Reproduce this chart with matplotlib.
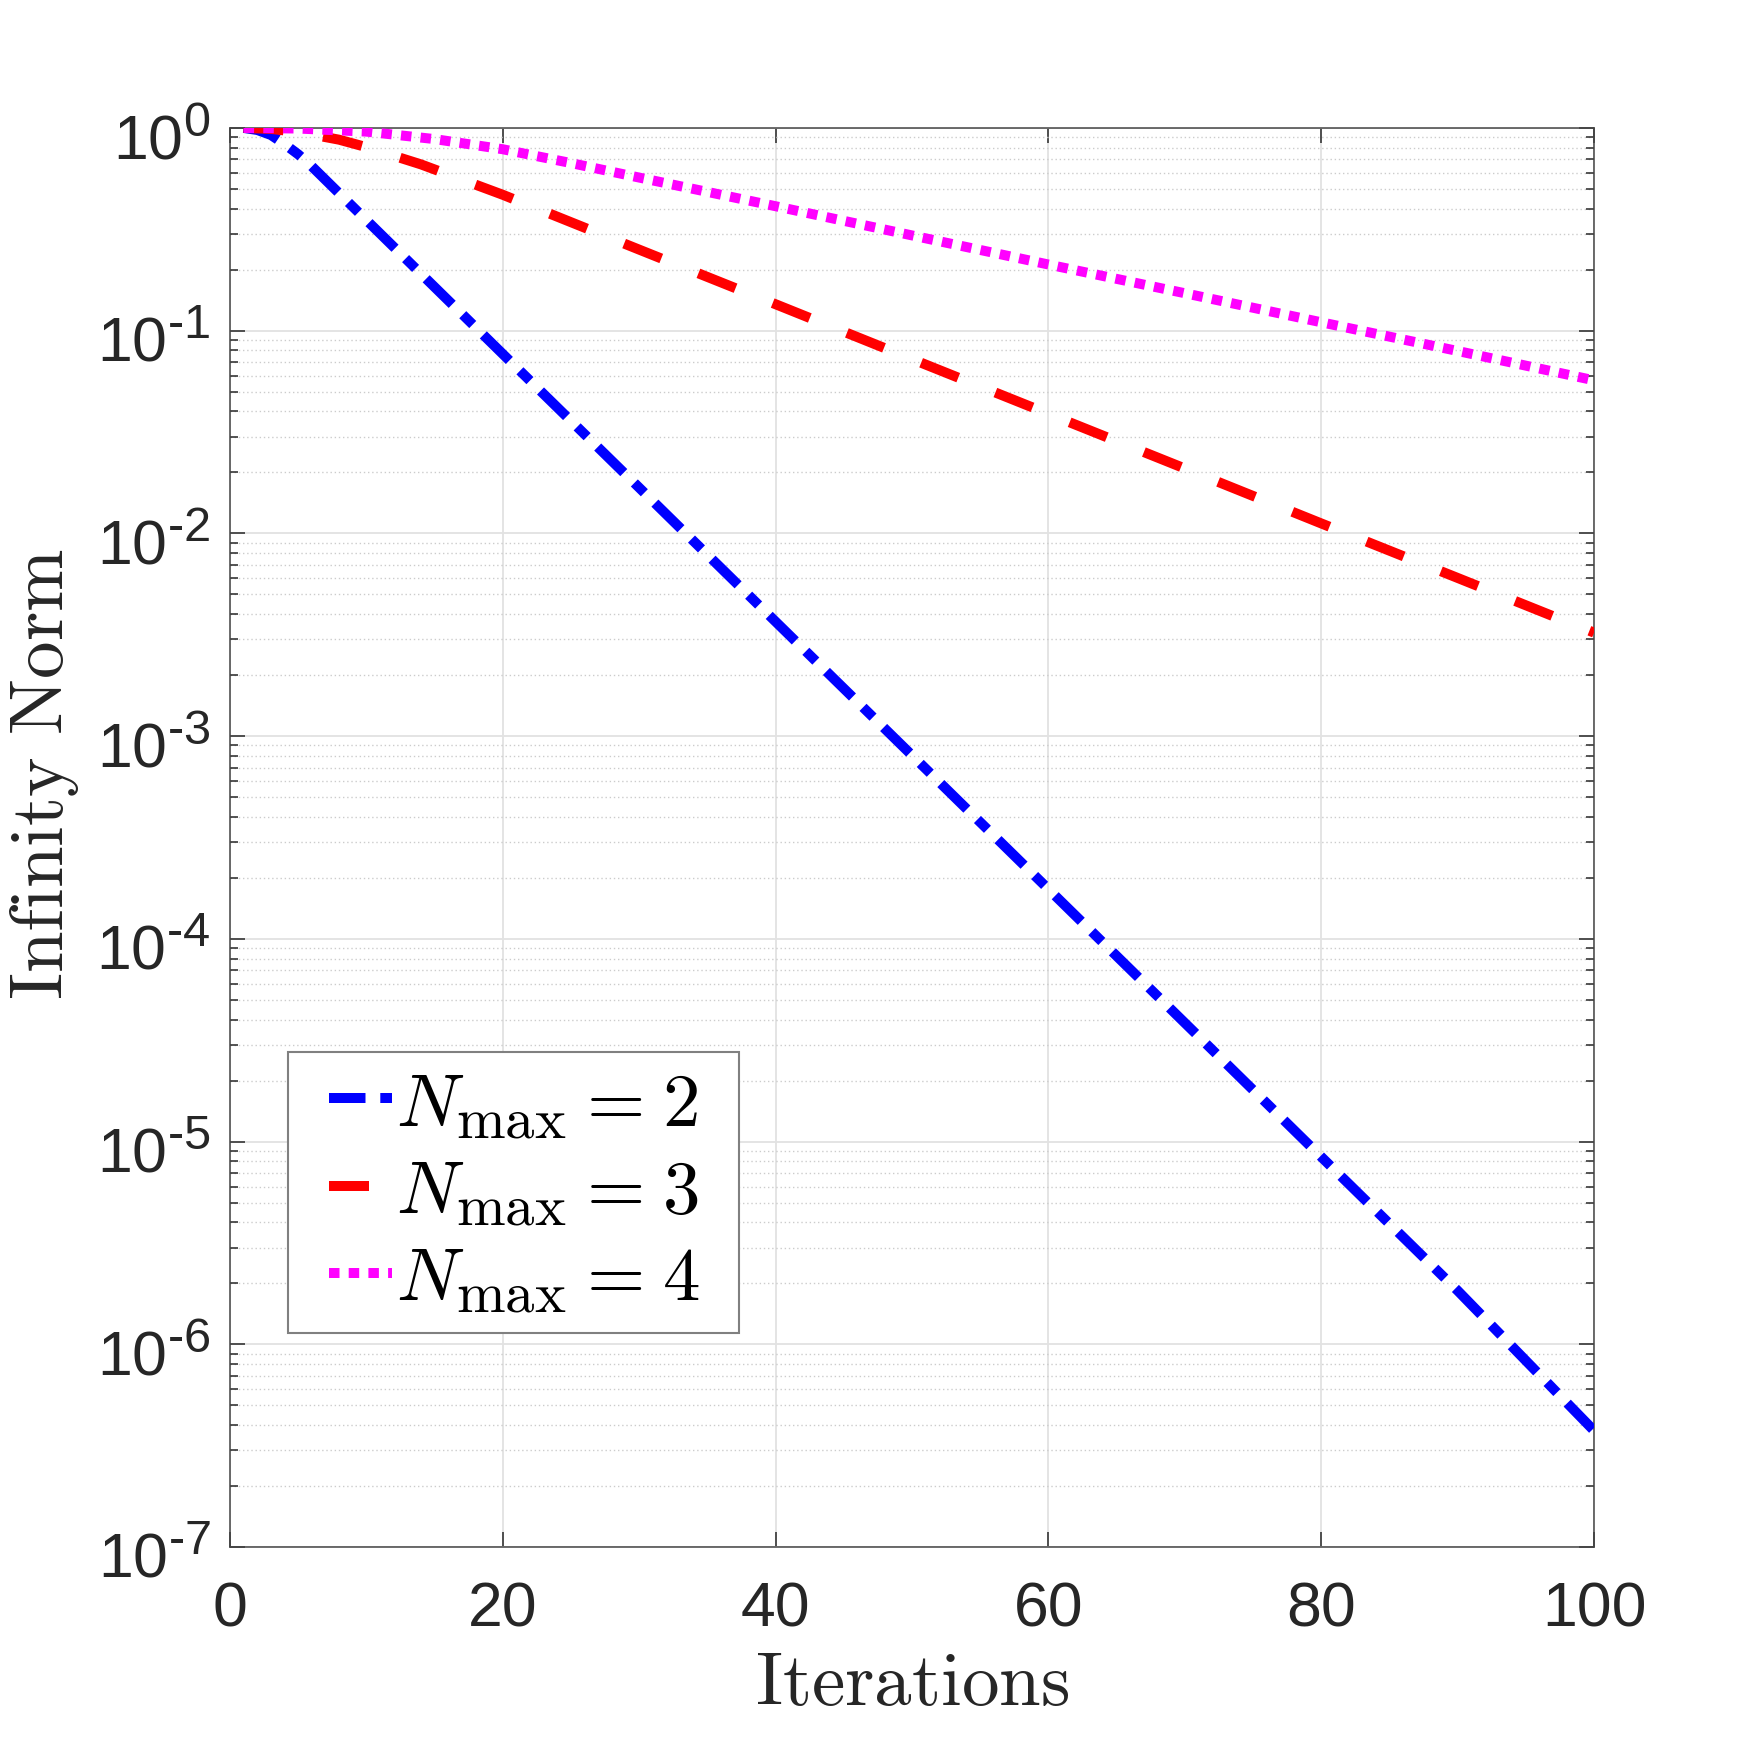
import numpy as np
import matplotlib
matplotlib.use('Agg')
import matplotlib.pyplot as plt
from matplotlib.ticker import LogLocator, FuncFormatter, FixedLocator, NullFormatter
from matplotlib.font_manager import FontProperties
from matplotlib.transforms import ScaledTranslation
from matplotlib.legend_handler import HandlerLine2D

try:
    import matplotlib._mathtext as _mt
    _mt.SHRINK_FACTOR = 0.78
except Exception:
    pass

# ---- data ----
iters_n2 = [1, 2, 3, 4, 5, 6, 10, 20, 30, 40, 50, 60, 70, 80, 90, 100]
norm_n2 = [1.0, 0.977, 0.923, 0.832, 0.741, 0.646, 0.351, 0.0767, 0.0168, 3.67e-3,
           8.04e-4, 1.76e-4, 3.85e-5, 8.41e-6, 1.84e-6, 3.75e-7]
iters_n3 = [1, 3, 5, 8, 10, 14, 20, 30, 40, 50, 60, 70, 80, 90, 100]
norm_n3 = [1.0, 0.989, 0.955, 0.875, 0.804, 0.661, 0.468, 0.251, 0.135, 0.0724,
           0.0389, 0.0209, 0.0112, 0.00603, 0.00324]
iters_n4 = [1, 5, 10, 15, 20, 25, 30, 40, 50, 60, 70, 80, 90, 100]
norm_n4 = [1.0, 0.993, 0.959, 0.881, 0.785, 0.671, 0.569, 0.411, 0.295, 0.212,
           0.153, 0.110, 0.0794, 0.0569]
series_labels = [r'$N_{\max}\hspace{0.06}=\hspace{0.06}2$',
                 r'$N_{\max}\hspace{0.06}=\hspace{0.06}3$',
                 r'$N_{\max}\hspace{0.06}=\hspace{0.06}4$']
x_ticks = [0, 20, 40, 60, 80, 100]
y_exponents = [-7, -6, -5, -4, -3, -2, -1, 0]
x_label = r'$\mathrm{Iterations}$'
y_label = r'$\mathrm{Infinity\ Norm}$'

# ---- styling ----
plt.rcParams['font.family'] = ['Liberation Sans', 'DejaVu Sans']
plt.rcParams['mathtext.fontset'] = 'custom'
plt.rcParams['mathtext.rm'] = 'Liberation Sans'
plt.rcParams['mathtext.it'] = 'Liberation Sans:italic'
plt.rcParams['mathtext.bf'] = 'Liberation Sans:bold'

colors = ['#0000ff', '#ff0000', '#ff00ff']
styles = [(0, (3.65, 1.48, 1.4, 1.48)), (0, (4.0, 4.0)), (0, (1.05, 0.92))]
lw = 7.2

HYPHEN = '\u2010'


def ytick_fmt(v, pos):
    e = int(round(np.log10(v)))
    if e < 0:
        return '$10^{' + HYPHEN + str(-e) + '}$'
    return '$10^{' + str(e) + '}$'


fig = plt.figure(figsize=(17.61, 17.40), dpi=100)
ax = fig.add_axes([0.1306, 0.1103, 0.7746, 0.8156])

data = [(iters_n2, norm_n2), (iters_n3, norm_n3), (iters_n4, norm_n4)]
for (xs, ys), c, ls, lab in zip(data, colors, styles, series_labels):
    ax.plot(xs, ys, color=c, linestyle=ls, linewidth=lw, label=lab, zorder=3,
            dash_capstyle='butt')

ax.set_yscale('log')
ax.set_xlim(0, 100)
ax.set_ylim(1e-7, 1)
ax.xaxis.set_major_locator(FixedLocator(x_ticks))
ax.yaxis.set_major_locator(FixedLocator([10.0 ** e for e in y_exponents]))
ax.yaxis.set_minor_locator(LogLocator(base=10, subs=np.arange(2, 10), numticks=100))
ax.yaxis.set_major_formatter(FuncFormatter(ytick_fmt))
ax.yaxis.set_minor_formatter(NullFormatter())

ax.tick_params(which='both', direction='in', top=True, right=True,
               colors='#262626', labelsize=45)
ax.tick_params(which='major', length=10.8, width=1.1)
ax.tick_params(which='minor', length=5.8, width=1.1)
ax.tick_params(axis='x', pad=23)
ax.tick_params(axis='y', pad=14)

for s in ax.spines.values():
    s.set_color('#444444')
    s.set_linewidth(1.1)

ax.set_axisbelow(True)
ax.grid(True, which='major', color='#e2e2e2', linewidth=1.3, linestyle='-')
ax.grid(True, which='minor', axis='y', color='#cccccc', linewidth=1.0, linestyle=(0, (1, 2)))

ax.set_xlabel(x_label, fontsize=54, math_fontfamily='cm', color='#262626', va='baseline')
ax.xaxis.set_label_coords(0.5, -0.1106)
ax.set_ylabel(y_label, fontsize=54, math_fontfamily='cm', color='#262626', va='center', ha='center')
ax.yaxis.set_label_coords(-0.136, 0.545)

# shift y tick labels slightly downward, as in the reference
off = ScaledTranslation(0, -6 / 100, fig.dpi_scale_trans)
for t in ax.yaxis.get_major_ticks():
    t.label1.set_transform(t.label1.get_transform() + off)

leg = ax.legend(loc='upper left', bbox_to_anchor=(0.0425, 0.1515, 0.331, 0.1975),
                mode='expand', borderaxespad=0,
                prop=FontProperties(size=54, math_fontfamily='cm'),
                handlelength=1.137, handletextpad=0.05, labelspacing=0.24,
                borderpad=0.25, frameon=True, fancybox=False,
                edgecolor='#808080', framealpha=1,
                handler_map={matplotlib.lines.Line2D: HandlerLine2D(xpad=0.297)})
leg.get_frame().set_linewidth(1.5)

fig.savefig('out.png', dpi=100, facecolor='white')
